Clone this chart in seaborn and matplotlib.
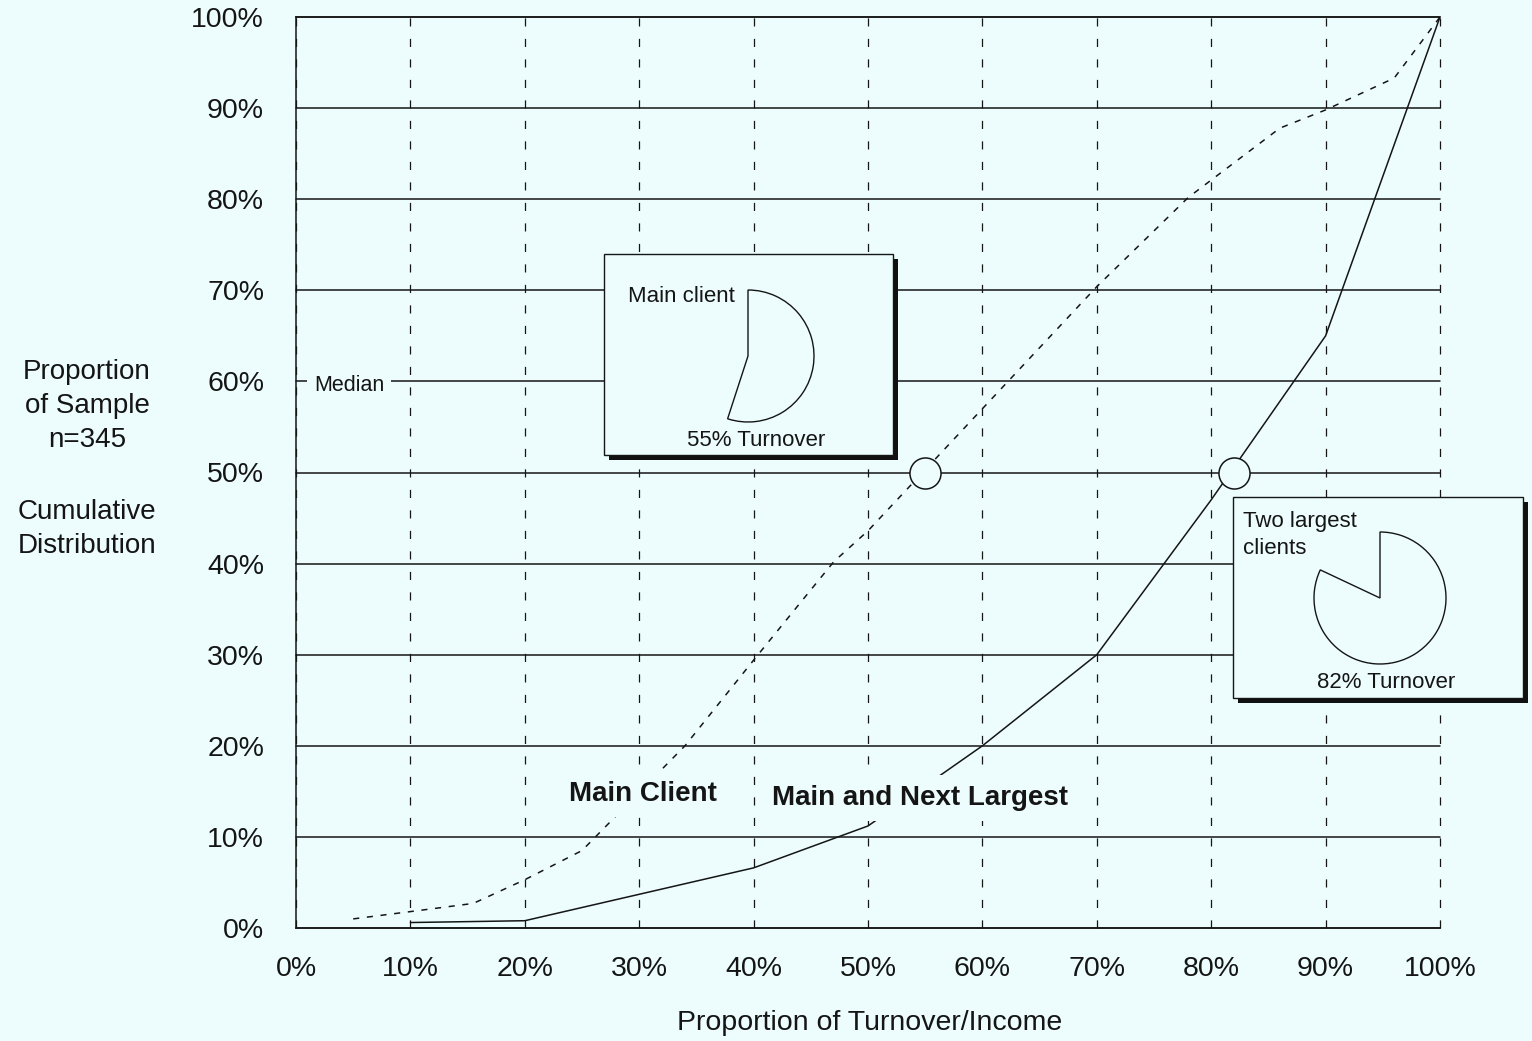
import matplotlib
matplotlib.use("Agg")
import matplotlib.pyplot as plt
import matplotlib.transforms as mtransforms
from matplotlib.patches import Rectangle
import pandas as pd
import seaborn as sns

# Cumulative distribution of the share of turnover/income from clients
main_x = [5, 10, 15.5, 20, 25, 34, 40, 47, 50, 70, 78, 86, 90, 96, 100]
main_y = [1.0, 1.8, 2.7, 5.3, 8.5, 20.0, 29.4, 40.2, 43.6, 70.4, 80.2, 87.8, 89.8, 93.3, 100]

two_x = [10, 20, 30, 40, 50, 60, 70, 80, 90, 100]
two_y = [0.6, 0.8, 3.7, 6.6, 11.2, 20.0, 30.0, 47.0, 65.0, 100]

# Medians (share of turnover at 50% of the sample)
median_main = 55
median_two = 82
median_level = 50

tick_values = list(range(0, 101, 10))
tick_labels = [f"{v}%" for v in tick_values]

BG = "#edfdfd"
INK = "#151515"
W, H = 1532, 1041

sns.set_theme(style="white")
plt.rcParams["font.family"] = ["Liberation Sans", "DejaVu Sans"]

fig = plt.figure(figsize=(W / 100, H / 100), dpi=100, facecolor=BG)
ax = fig.add_axes([296 / W, 1 - 928 / H, (1440 - 296) / W, (928 - 17) / H])
ax.set_facecolor(BG)

df_main = pd.DataFrame({"share": main_x, "cum": main_y})
df_two = pd.DataFrame({"share": two_x, "cum": two_y})

sns.lineplot(data=df_main, x="share", y="cum", ax=ax, color=INK, lw=1.1,
             linestyle=(0, (4, 5)), zorder=2)
sns.lineplot(data=df_two, x="share", y="cum", ax=ax, color=INK, lw=1.1, zorder=2)

ax.set_xlim(0, 100)
ax.set_ylim(0, 100)
ax.set_xticks(tick_values)
ax.set_xticklabels(tick_labels)
ax.set_yticks(tick_values)
ax.set_yticklabels(tick_labels)
ax.set_xlabel("")
ax.set_ylabel("")
ax.tick_params(axis="both", length=0, labelsize=20.5, colors=INK)
ax.tick_params(axis="x", pad=20)
ax.tick_params(axis="y", pad=23)

ax.set_axisbelow(True)
ax.yaxis.grid(True, color=INK, lw=1.1, ls="-")
ax.xaxis.grid(True, color=INK, lw=0.9, ls=(0, (6.5, 9.9)))
for gl in ax.get_xgridlines() + ax.get_ygridlines():
    gl.set_clip_on(False)
for side in ("left", "top", "bottom"):
    ax.spines[side].set_visible(True)
    ax.spines[side].set_color(INK)
    ax.spines[side].set_linewidth(1.1)
ax.spines["right"].set_visible(False)

# Median markers
sns.scatterplot(x=[median_main, median_two], y=[median_level, median_level], ax=ax,
                s=500, color=BG, edgecolor=INK, linewidth=1.1, zorder=6, clip_on=False)


def px_to_data(px, py):
    return (px - 296) / 11.44, (928 - py) / 9.11


def inset_box(left, top, right, bottom):
    x0, y1 = px_to_data(left, top)
    x1, y0 = px_to_data(right, bottom)
    shadow_tr = ax.transData + mtransforms.ScaledTranslation(0.05, -0.05, fig.dpi_scale_trans)
    ax.add_patch(Rectangle((x0, y0), x1 - x0, y1 - y0, facecolor="#111111",
                           edgecolor="none", transform=shadow_tr, zorder=3, clip_on=False))
    ax.add_patch(Rectangle((x0, y0), x1 - x0, y1 - y0, facecolor=BG,
                           edgecolor=INK, lw=1.0, zorder=3.5, clip_on=False))


def inset_pie(cx, cy, r, share):
    pax = fig.add_axes([(cx - 1.25 * r) / W, 1 - (cy + 1.25 * r) / H, 2.5 * r / W, 2.5 * r / H])
    wedges, _ = pax.pie([share, 100 - share], startangle=90, counterclock=False,
                        colors=[BG, BG], wedgeprops=dict(edgecolor=INK, linewidth=1.0))
    wedges[1].set_visible(False)
    pax.set_xlim(-1.25, 1.25)
    pax.set_ylim(-1.25, 1.25)
    pax.set_aspect("equal")
    pax.axis("off")


inset_box(604, 254, 893, 455)
inset_box(1233, 497, 1523, 698)
inset_pie(748, 356, 66, median_main)
inset_pie(1380, 598, 66, median_two)

# Text inside the inset boxes
tx, ty = px_to_data(628, 297)
ax.text(tx, ty, "Main client", fontsize=16, color=INK, ha="left", va="center", zorder=7)
tx, ty = px_to_data(687, 440)
ax.text(tx, ty, f"{median_main}% Turnover", fontsize=16, color=INK, ha="left", va="center", zorder=7)
tx, ty = px_to_data(1243, 535)
ax.text(tx, ty, "Two largest\nclients", fontsize=16, color=INK, ha="left", va="center",
        linespacing=1.4, zorder=7, clip_on=False)
tx, ty = px_to_data(1317, 682)
ax.text(tx, ty, f"{median_two}% Turnover", fontsize=16, color=INK, ha="left", va="center",
        zorder=7, clip_on=False)

# Median label on the 60% line
tx, _ = px_to_data(349, 383)
ax.text(tx, 59.6, "Median", fontsize=15.5, color=INK, ha="center", va="center", zorder=7,
        bbox=dict(boxstyle="square,pad=0.3", facecolor=BG, edgecolor="none"))

# Series labels
tx, ty = px_to_data(643, 794)
ax.text(tx, ty, "Main Client", fontsize=20, fontweight="bold", color=INK,
        ha="center", va="center", zorder=7,
        bbox=dict(boxstyle="square,pad=0.35", facecolor=BG, edgecolor="none"))
tx, ty = px_to_data(920, 798)
ax.text(tx, ty, "Main and Next Largest", fontsize=20, fontweight="bold", color=INK,
        ha="center", va="center", zorder=7,
        bbox=dict(boxstyle="square,pad=0.35", facecolor=BG, edgecolor="none"))

# Axis titles
fig.text(87 / W, 1 - 406 / H, "Proportion\nof Sample\nn=345", fontsize=20, color=INK,
         ha="center", va="center", linespacing=1.42)
fig.text(87 / W, 1 - 529 / H, "Cumulative\nDistribution", fontsize=20, color=INK,
         ha="center", va="center", linespacing=1.42)
fig.text(870 / W, 1 - 1023 / H, "Proportion of Turnover/Income", fontsize=20.5, color=INK,
         ha="center", va="center")

fig.savefig("out.png", dpi=100, facecolor=BG)
